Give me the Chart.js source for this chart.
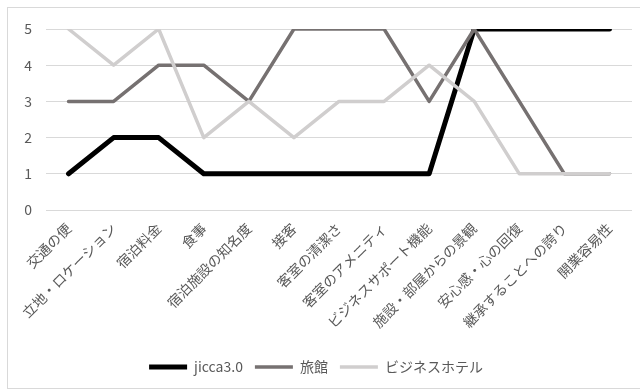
<!DOCTYPE html>
<html>
<head>
<meta charset="utf-8">
<script src="https://cdn.jsdelivr.net/npm/chart.js@4"></script>
<style>
  body { margin: 0; background: #fff; }
  #waku { position: absolute; left: 7px; top: 7px; width: 640px; height: 382px; border: 1px solid #d9d9d9; box-sizing: border-box; }
  #box { position: absolute; left: 0; top: 0; width: 640px; height: 392px; }
</style>
</head>
<body>
<div id="waku"></div>
<div id="box"><canvas id="grafico"></canvas></div>
<script>
const categorias = ['交通の便', '立地・ロケーション', '宿泊料金', '食事', '宿泊施設の知名度', '接客', '客室の清潔さ', '客室のアメニティ', 'ビジネスサポート機能', '施設・部屋からの景観', '安心感・心の回復', '継承することへの誇り', '開業容易性'];
const valoresJicca = [1, 2, 2, 1, 1, 1, 1, 1, 1, 5, 5, 5, 5];
const valoresRyokan = [3, 3, 4, 4, 3, 5, 5, 5, 3, 5, 3, 1, 1];
const valoresHotel = [5, 4, 5, 2, 3, 2, 3, 3, 4, 3, 1, 1, 1];
const ticksY = [0, 1, 2, 3, 4, 5];

const fonte = "'Noto Sans CJK JP', sans-serif";
const corTexto = '#595959';

function serie(label, data, cor, largura, ordem) {
    return {
        label: label,
        data: data,
        borderColor: cor,
        backgroundColor: cor,
        borderWidth: largura,
        pointRadius: 0,
        tension: 0,
        borderCapStyle: 'round',
        borderJoinStyle: 'round',
        pointStyle: 'line',
        order: ordem
    };
}

new Chart(document.getElementById('grafico'), {
    type: 'line',
    data: {
        labels: categorias,
        datasets: [
            serie('jicca3.0', valoresJicca, '#000000', 5, 3),
            serie('旅館', valoresRyokan, '#767171', 3.5, 2),
            serie('ビジネスホテル', valoresHotel, '#d0cece', 3.5, 1)
        ]
    },
    options: {
        responsive: true,
        maintainAspectRatio: false,
        animation: false,
        layout: { padding: { top: 29, right: 8, bottom: 8, left: 0 } },
        plugins: {
            tooltip: { enabled: false },
            legend: {
                position: 'bottom',
                labels: {
                    usePointStyle: true,
                    pointStyleWidth: 38,
                    boxHeight: 14,
                    padding: 12,
                    color: corTexto,
                    font: { family: fonte, size: 14 },
                    sort: (a, b) => a.datasetIndex - b.datasetIndex
                }
            }
        },
        scales: {
            x: {
                offset: true,
                grid: { display: false },
                border: { display: false },
                ticks: {
                    color: corTexto,
                    font: { family: fonte, size: 14 },
                    maxRotation: 45,
                    minRotation: 45,
                    autoSkip: false,
                    padding: 2
                },
                afterFit: function(scale) { scale.height = 138; }
            },
            y: {
                min: 0,
                max: 5,
                afterBuildTicks: function(scale) { scale.ticks = ticksY.map(v => ({ value: v })); },
                grid: { color: '#d9d9d9', lineWidth: 1, drawTicks: false },
                border: { display: false },
                ticks: {
                    color: corTexto,
                    font: { family: fonte, size: 14 },
                    padding: 14
                },
                afterFit: function(scale) { scale.width = 46; }
            }
        }
    }
});
</script>
</body>
</html>
